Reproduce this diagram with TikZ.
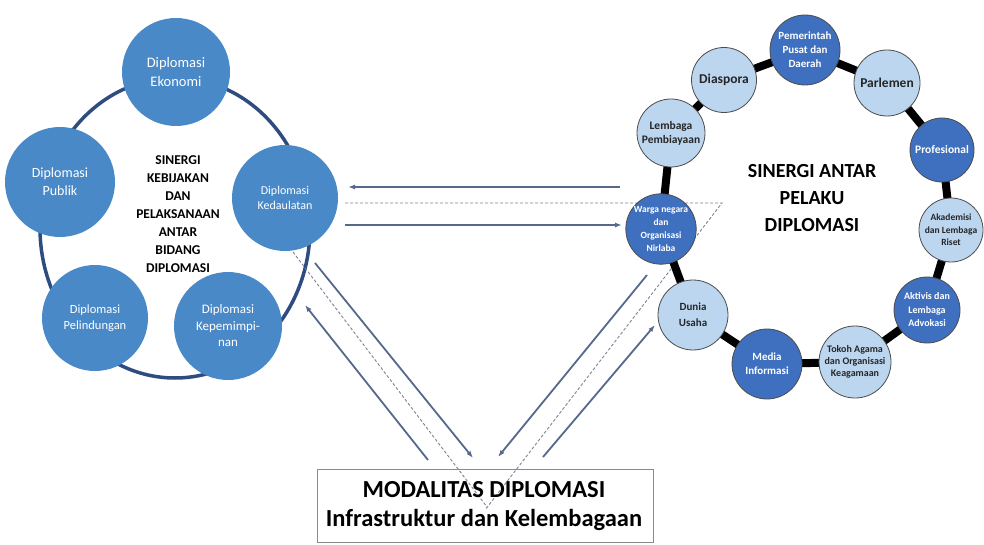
\documentclass[tikz,border=0pt]{standalone}
\usepackage{fontspec}
\setmainfont{Carlito}
\usetikzlibrary{arrows.meta}
\definecolor{leftblue}{HTML}{4A89C8}
\definecolor{ringnavy}{HTML}{2E4C80}
\definecolor{darkcirc}{HTML}{3F70BF}
\definecolor{lightcirc}{HTML}{BCD6EF}
\definecolor{arrowcol}{HTML}{56698C}
\definecolor{dashcol}{HTML}{7E8494}
\definecolor{boxcol}{HTML}{8A8A8A}
\tikzset{
  lcirc/.style={circle, fill=leftblue, text=white, minimum size=#1, inner sep=0pt, align=center, font=\fontsize{14}{18}\selectfont},
  rdark/.style={circle, fill=darkcirc, draw=black!70, line width=0.8pt, text=white, minimum size=#1, inner sep=0pt, align=center, font=\bfseries\fontsize{11}{14}\selectfont},
  rlight/.style={circle, fill=lightcirc, draw=black!70, line width=0.8pt, text=black!85, minimum size=#1, inner sep=0pt, align=center, font=\bfseries\fontsize{11}{14}\selectfont},
  bar/.style={line width=8pt, black},
  solidarrow/.style={arrowcol, line width=1.8pt, -{Latex[length=7pt,width=5pt]}},
  dashline/.style={dashcol, line width=0.9pt, dash pattern=on 3pt off 2pt},
}
\begin{document}
\begin{tikzpicture}[x=1pt,y=-1pt]
\useasboundingbox (0,0) rectangle (984,545);
\clip (0,0) rectangle (984,545);
\fill[white] (0,0) rectangle (984,545);

% ---------- left group ----------
\draw[ringnavy, line width=3.5pt] (175,228) ellipse [x radius=135pt, y radius=150pt];
\node[lcirc=108pt, font=\fontsize{14.5}{19}\selectfont] (eko) at (176,72) {Diplomasi\\Ekonomi};
\node[lcirc=110pt] (pub) at (60,182) {Diplomasi\\Publik};
\node[lcirc=106pt, font=\fontsize{12}{15}\selectfont] (ked) at (285,198) {Diplomasi\\Kedaulatan};
\node[lcirc=106pt, font=\fontsize{12.5}{16}\selectfont] (pel) at (95,318) {Diplomasi\\Pelindungan};
\node[lcirc=108pt, font=\fontsize{13}{16.5}\selectfont] (kep) at (228,326) {Diplomasi\\Kepemimpi-\\nan};
\node[align=center, font=\bfseries\fontsize{13.5}{18}\selectfont] (ltxt) at (178,214)
  {SINERGI\\KEBIJAKAN\\DAN\\PELAKSANAAN\\ANTAR\\BIDANG\\DIPLOMASI};

% ---------- connectors (coordinates) ----------
\coordinate (h1a) at (620,187); \coordinate (h1b) at (348,187);
\coordinate (hda) at (345,203); \coordinate (hdb) at (722,203);
\coordinate (h2a) at (345,225); \coordinate (h2b) at (622,225);
\coordinate (l1a) at (315,263); \coordinate (l1b) at (473,458);
\coordinate (l2a) at (428,460); \coordinate (l2b) at (305,305);
\coordinate (lda) at (293,252); \coordinate (ldb) at (487,507);
\coordinate (r1a) at (647,275); \coordinate (r1b) at (498,457);
\coordinate (r2a) at (543,457); \coordinate (r2b) at (655,325);
\coordinate (rdb) at (485,510);

\draw[dashline] (hda) -- (hdb) -- (rdb);
\draw[dashline] (lda) -- (ldb);

% ---------- right group ----------
\coordinate (pemc) at (805,50);
\coordinate (diac) at (724,80);
\coordinate (parc) at (887,83);
\coordinate (lemc) at (671,133);
\coordinate (proc) at (942,150);
\coordinate (akac) at (951,230);
\coordinate (aktc) at (927,310);
\coordinate (tokc) at (855,362);
\coordinate (medc) at (767,364);
\coordinate (dunc) at (693,315);
\coordinate (warc) at (661,229);
\draw[bar] (pemc) -- (parc) -- (proc) -- (akac) -- (aktc) -- (tokc) -- (medc) -- (dunc) -- (warc) -- (lemc) -- (diac) -- cycle;

\node[rdark=70pt] (pem) at (pemc) {Pemerintah\\Pusat dan\\Daerah};
\node[rlight=65pt, font=\bfseries\fontsize{13.5}{14}\selectfont] (dia) at (diac) {Diaspora};
\node[rlight=66pt, font=\bfseries\fontsize{13.5}{14}\selectfont] (par) at (parc) {Parlemen};
\node[rlight=68pt, font=\bfseries\fontsize{11.5}{14}\selectfont] (lem) at (lemc) {Lembaga\\Pembiayaan};
\node[rdark=64pt, font=\bfseries\fontsize{11.5}{14}\selectfont] (pro) at (proc) {Profesional};
\node[rlight=64pt, font=\bfseries\fontsize{9.5}{12.5}\selectfont] (aka) at (akac) {Akademisi\\dan Lembaga\\Riset};
\node[rdark=66pt, font=\bfseries\fontsize{10}{13.5}\selectfont] (akt) at (aktc) {Aktivis dan\\Lembaga\\Advokasi};
\node[rlight=72pt, font=\bfseries\fontsize{10}{12}\selectfont] (tok) at (tokc) {Tokoh Agama\\dan Organisasi\\Keagamaan};
\node[rdark=70pt] (med) at (medc) {Media\\Informasi};
\node[rlight=70pt, font=\bfseries\fontsize{11}{16}\selectfont] (dun) at (dunc) {Dunia\\Usaha};
\node[rdark=70pt, font=\bfseries\fontsize{9.5}{13}\selectfont] (war) at (warc) {Warga negara\\dan\\Organisasi\\Nirlaba};

\node[align=center, font=\bfseries\fontsize{20}{27}\selectfont] (rtxt) at (812,198)
  {SINERGI ANTAR\\PELAKU\\DIPLOMASI};

% ---------- arrows ----------
\draw[solidarrow] (h1a) -- (h1b);
\draw[solidarrow] (h2a) -- (h2b);
\draw[solidarrow] (l1a) -- (l1b);
\draw[solidarrow] (l2a) -- (l2b);
\draw[solidarrow] (r1a) -- (r1b);
\draw[solidarrow] (r2a) -- (r2b);

% ---------- bottom box ----------
\node[draw=boxcol, line width=1pt, minimum width=336pt, minimum height=73pt, inner sep=0pt] (box) at (485,505.5) {};
\node[align=center, font=\bfseries\fontsize{24.5}{29}\selectfont] (btxt) at (484,506)
  {MODALITAS DIPLOMASI\\Infrastruktur dan Kelembagaan};
\end{tikzpicture}
\end{document}
